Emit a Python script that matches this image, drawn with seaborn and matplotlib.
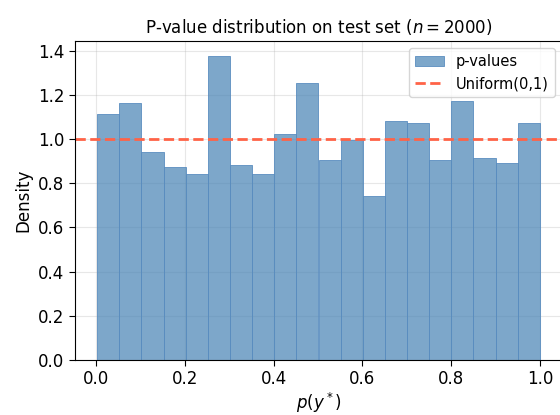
import numpy as np
import pandas as pd
import matplotlib
matplotlib.use("Agg")
import matplotlib.pyplot as plt
import seaborn as sns

# counts per bin (n = 2000, 20 bins)
bin_counts = [111, 116, 94, 87, 84, 137, 88, 84, 102, 125,
              90, 99, 74, 108, 107, 90, 117, 91, 89, 107]
p_min, p_max = 0.003, 0.9995
n_bins = len(bin_counts)
n_total = sum(bin_counts)

width = (p_max - p_min) / n_bins
centers = p_min + width * (np.arange(n_bins) + 0.5)
df = pd.DataFrame({"p": centers, "w": bin_counts})

plt.rcParams["font.family"] = ["DejaVu Sans"]

fig = plt.figure(figsize=(5.6, 4.15), dpi=100)
ax = fig.add_axes([75 / 560, 1 - 360 / 415, 487 / 560, 319 / 415])

sns.histplot(data=df, x="p", weights="w", bins=n_bins, binrange=(p_min, p_max),
             stat="density", color="steelblue", alpha=0.7,
             edgecolor="#5a8dbf", linewidth=0.6, label="p-values", ax=ax)
ax.axhline(1.0, color="tomato", ls="--", lw=2, label="Uniform(0,1)")

ax.grid(True, color="#b0b0b0", alpha=0.3)
ax.set_axisbelow(True)
ax.tick_params(labelsize=12, length=4)
ax.set_xlabel(r"$p(y^*)$", fontsize=12, labelpad=2)
ax.set_ylabel("Density", fontsize=12)
ax.set_title(f"P-value distribution on test set ($n = {n_total}$)", fontsize=12)
ax.set_xticks([0.0, 0.2, 0.4, 0.6, 0.8, 1.0])

handles, labels = ax.get_legend_handles_labels()
order = [labels.index("p-values"), labels.index("Uniform(0,1)")]
ax.legend([handles[i] for i in order], [labels[i] for i in order],
          loc="upper right", fontsize=10.5)

fig.savefig("out.png", dpi=100)
